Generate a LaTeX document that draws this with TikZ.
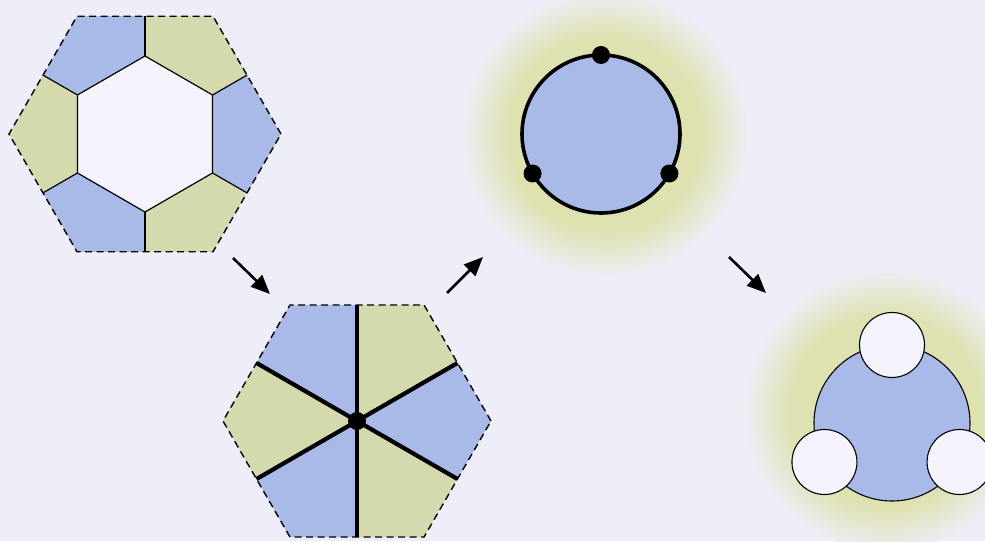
\documentclass[tikz,border=0pt]{standalone}
\usepackage{xcolor}
\usepackage{tikz}
\usetikzlibrary{arrows.meta}

\definecolor{paper}{RGB}{238,238,248}
\definecolor{faceblue}{RGB}{170,186,232}
\definecolor{facegreen}{RGB}{213,218,174}
\definecolor{glowgreen}{RGB}{222,225,176}
\definecolor{holewhite}{RGB}{244,243,251}

\pgfdeclareradialshading{glow}{\pgfpointorigin}{%
  color(0bp)=(glowgreen); color(17bp)=(glowgreen);
  color(25.5bp)=(paper); color(50bp)=(paper)}

\begin{document}
\begin{tikzpicture}[
    x=1pt, y=1pt,
    cellA/.style={fill=faceblue},
    cellB/.style={fill=facegreen},
    rim/.style={draw, dashed, dash pattern=on 7pt off 4.5pt, line width=1.4pt},
    seam/.style={line width=1.2pt},
    spoke/.style={line width=4.2pt},
    dot/.style={fill=black},
    flowarrow/.style={-{Triangle[length=19pt,width=16pt]}, line width=2.6pt}
]
\useasboundingbox (0,0) rectangle (985,541);
\clip (0,0) rectangle (985,541);
\fill[paper] (0,0) rectangle (985,541);

% centres of the four pictures
\coordinate (tiling) at (145,407);
\coordinate (star)   at (357,120);
\coordinate (disc)   at (601,407);
\coordinate (holes)  at (892,118);

% soft halos
\shade[shading=glow] (605,407) circle[radius=142];
\shade[shading=glow] (886,130) circle[radius=140];

% tiling with a hole
\begin{scope}[shift={(tiling)}]
  \fill[holewhite] (30:78) -- (90:78) -- (150:78) -- (210:78) -- (270:78) -- (330:78) -- cycle;
  \foreach \a/\c in {0/cellA,60/cellB,120/cellA,180/cellB,240/cellA,300/cellB}
    \fill[\c] (\a+30:78) -- (\a+30:117.8) -- (\a:136) -- (\a-30:117.8) -- (\a-30:78) -- cycle;
  \foreach \a in {30,90,...,330}
    \draw[seam] (\a:78) -- (\a:117.8);
  \draw[seam] (30:78) -- (90:78) -- (150:78) -- (210:78) -- (270:78) -- (330:78) -- cycle;
  \draw[rim] (0:136) -- (60:136) -- (120:136) -- (180:136) -- (240:136) -- (300:136) -- cycle;
\end{scope}

% star of six sectors
\begin{scope}[shift={(star)}]
  \foreach \a/\c in {0/cellA,60/cellB,120/cellA,180/cellB,240/cellA,300/cellB}
    \fill[\c] (0,0) -- (\a+30:116) -- (\a:134) -- (\a-30:116) -- cycle;
  \foreach \a in {30,90,...,330}
    \draw[spoke] (0,0) -- (\a:116);
  \fill[dot] (0,0) circle[radius=9];
  \draw[rim] (0:134) -- (60:134) -- (120:134) -- (180:134) -- (240:134) -- (300:134) -- cycle;
\end{scope}

% disc with three marked points
\begin{scope}[shift={(disc)}]
  \fill[faceblue] (0,0) circle[radius=79];
  \draw[line width=3.6pt] (0,0) circle[radius=79];
  \foreach \a in {90,210,330}
    \fill[dot] (\a:79) circle[radius=9];
\end{scope}

% disc with three holes
\begin{scope}[shift={(holes)}]
  \fill[faceblue] (0,0) circle[radius=78];
  \draw[line width=1.1pt] (0,0) circle[radius=78];
  \foreach \a in {90,210,330}
    \draw[line width=1.1pt, fill=holewhite] (\a:78) circle[radius=32.5];
\end{scope}

% arrows
\coordinate (tiling-out) at (233,283);
\coordinate (star-in)    at (270,247);
\coordinate (star-out)   at (447,248);
\coordinate (disc-in)    at (483,284);
\coordinate (disc-out)   at (729,284);
\coordinate (holes-in)   at (766,248);
\draw[flowarrow] (tiling-out) -- (star-in);
\draw[flowarrow] (star-out) -- (disc-in);
\draw[flowarrow] (disc-out) -- (holes-in);
\end{tikzpicture}
\end{document}
